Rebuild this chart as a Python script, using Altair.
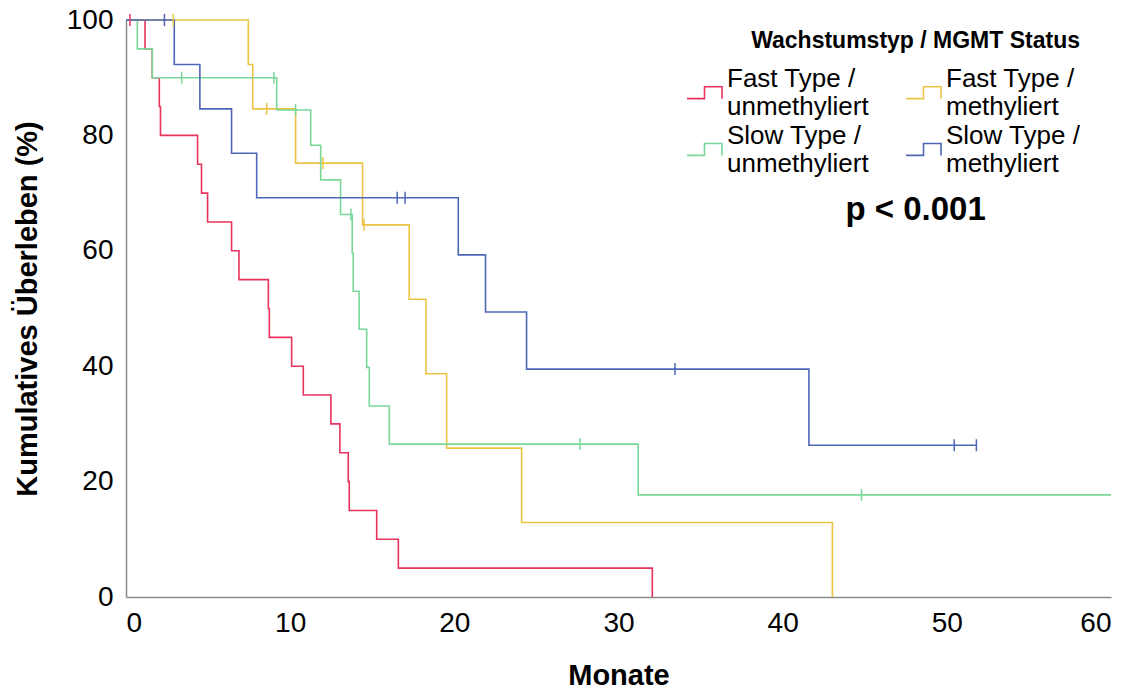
import altair as alt
import pandas as pd

# Kaplan-Meier survival by growth type and MGMT promoter status
groups = [
    "Fast Type / unmethyliert",
    "Fast Type / methyliert",
    "Slow Type / unmethyliert",
    "Slow Type / methyliert",
]
colors = ["#E8335C", "#EAC545", "#79D898", "#4E66B6"]

# event times (months) and survival (%) right after each event
fast_unmeth_times = [1.16, 1.6, 2.03, 2.1, 4.36, 4.6, 4.97, 6.43, 6.88, 8.67, 8.73,
                     10.09, 10.8, 12.48, 13.03, 13.54, 13.6, 15.27, 16.59, 32.06]
fast_unmeth_surv = [95, 90, 85, 80, 75, 70, 65, 60, 55, 50, 45,
                    40, 35, 30, 25, 20, 15, 10, 5, 0]
fast_unmeth_censored = [0.24]
fast_unmeth_end = 32.06

fast_meth_times = [7.45, 7.72, 10.33, 14.41, 17.25, 18.27, 19.53, 24.1, 43.03]
fast_meth_surv = [92.3, 84.6, 75.2, 64.5, 51.6, 38.7, 25.8, 12.9, 0]
fast_meth_censored = [2.88, 8.57, 12.0, 14.5]
fast_meth_end = 43.03

slow_unmeth_times = [0.69, 1.6, 9.18, 11.25, 11.86, 13.07, 13.78, 13.84, 14.2,
                     14.66, 14.82, 16.04, 31.2]
slow_unmeth_surv = [95, 90, 84.4, 78.3, 72.3, 66.3, 59.6, 53.0, 46.4,
                    39.8, 33.1, 26.5, 17.7]
slow_unmeth_censored = [3.39, 9.01, 10.33, 13.7, 27.65, 44.8]
slow_unmeth_end = 60

slow_meth_times = [2.94, 4.5, 6.43, 7.96, 20.24, 21.9, 24.4, 41.6]
slow_meth_surv = [92.3, 84.6, 76.9, 69.2, 59.3, 49.4, 39.5, 26.3]
slow_meth_censored = [2.34, 16.52, 17.0, 33.44, 50.45, 51.8]
slow_meth_end = 51.8

series = [
    (fast_unmeth_times, fast_unmeth_surv, fast_unmeth_censored, fast_unmeth_end),
    (fast_meth_times, fast_meth_surv, fast_meth_censored, fast_meth_end),
    (slow_unmeth_times, slow_unmeth_surv, slow_unmeth_censored, slow_unmeth_end),
    (slow_meth_times, slow_meth_surv, slow_meth_censored, slow_meth_end),
]


def survival_at(times, surv, t):
    value = 100
    for ti, si in zip(times, surv):
        if ti <= t:
            value = si
    return value


curve_rows, censor_rows = [], []
for name, (times, surv, cens, end) in zip(groups, series):
    pts = [(0, 100)] + list(zip(times, surv))
    if end > times[-1]:
        pts.append((end, surv[-1]))
    for i, (t, s) in enumerate(pts):
        curve_rows.append({"group": name, "order": i, "month": t, "surv": s})
    for t in cens:
        censor_rows.append({"group": name, "month": t, "surv": survival_at(times, surv, t)})

curves = pd.DataFrame(curve_rows)
censors = pd.DataFrame(censor_rows)
annotation = pd.DataFrame({"month": [48.1], "surv": [67.0], "text": ["p < 0.001"]})

x_scale = alt.Scale(domain=[0, 60], nice=False)
y_scale = alt.Scale(domain=[0, 100], nice=False)

x_axis = alt.Axis(values=[0, 10, 20, 30, 40, 50, 60], ticks=False, grid=False,
                  labelPadding=12, title="Monate", titleY=87, titleBaseline="alphabetic")
y_axis = alt.Axis(values=[0, 20, 40, 60, 80, 100], ticks=False, grid=False,
                  labelPadding=13, title="Kumulatives Überleben (%)",
                  titleX=-84, titleBaseline="bottom")

# step-shaped legend glyph, hanging just below the first label line
step_symbol = "M-1,0.68L0,0.68L0,0L1,0L1,0.68"

lines = alt.Chart(curves).mark_line(interpolate="step-after", strokeWidth=1.6).encode(
    x=alt.X("month:Q", scale=x_scale, axis=x_axis),
    y=alt.Y("surv:Q", scale=y_scale, axis=y_axis),
    order="order:Q",
    color=alt.Color(
        "group:N",
        scale=alt.Scale(domain=groups, range=colors),
        legend=alt.Legend(
            title="Wachstumstyp / MGMT Status",
            orient="none", legendX=560, legendY=10, direction="horizontal",
            columns=2, columnPadding=33, rowPadding=2,
            titleFontSize=23, titleFontWeight="bold", titleAnchor="end",
            titlePadding=15, titleLimit=600,
            labelFontSize=26, labelLimit=400, labelOffset=4,
            labelBaseline="alphabetic",
            labelExpr="[split(datum.label, ' / ')[0] + ' /', split(datum.label, ' / ')[1]]",
            symbolType=step_symbol, symbolSize=1225, symbolStrokeWidth=1.6,
        ),
    ),
)

ticks = alt.Chart(censors).mark_point(
    shape="M0,-1L0,1", size=144, filled=False, strokeWidth=1.5, opacity=1
).encode(
    x="month:Q",
    y="surv:Q",
    stroke=alt.Stroke("group:N", scale=alt.Scale(domain=groups, range=colors), legend=None),
)

ptext = alt.Chart(annotation).mark_text(fontSize=33, fontWeight="bold", color="black").encode(
    x="month:Q", y="surv:Q", text="text:N"
)

chart = alt.layer(lines, ticks, ptext).properties(
    width=985, height=577,
    autosize=alt.AutoSizeParams(type="none"),
    padding={"left": 126, "top": 20, "right": 26, "bottom": 93},
).configure(
    font="Liberation Sans",
).configure_view(stroke=None).configure_axis(
    domainColor="#8c8c8c", domainWidth=1.5,
    labelFontSize=28, labelColor="black",
    titleFontSize=29, titleFontWeight="bold", titleColor="black",
).configure_legend(labelColor="black", titleColor="black")

chart.save("out.html", embed_options={"renderer": "svg", "actions": False})
